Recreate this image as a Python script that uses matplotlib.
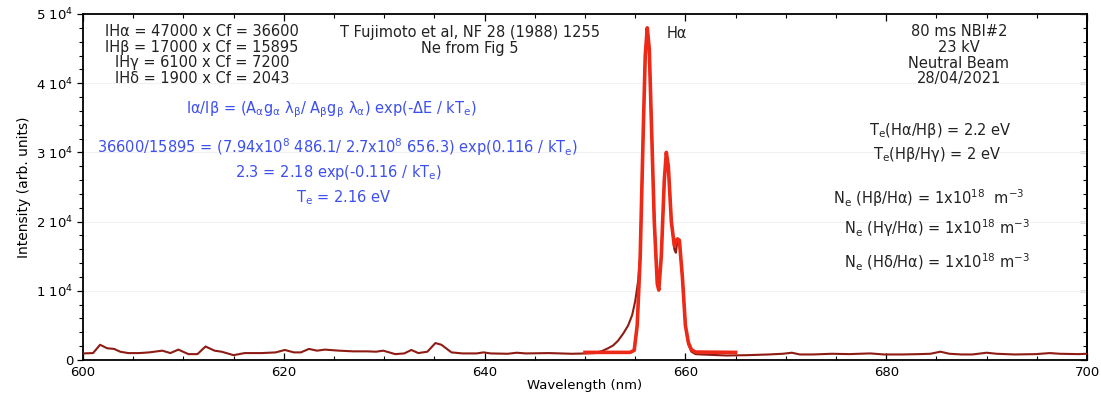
import matplotlib
matplotlib.use("Agg")
import matplotlib.pyplot as plt
from matplotlib.ticker import MultipleLocator, FuncFormatter

plt.rcParams["font.family"] = ["DejaVu Sans"]
plt.rcParams["mathtext.fontset"] = "dejavusans"
plt.rcParams["mathtext.default"] = "regular"

# measured spectrum (dark red)
wl_meas = [600, 601, 601.7, 602.4, 603.1, 603.7, 604.5, 605.6, 606.6, 607.9,
           608.7, 609.5, 610.5, 611.4, 612.2, 613.1, 613.8, 615.0, 616.1, 617.8,
           619.2, 620.1, 621.0, 621.7, 622.5, 623.3, 624.1, 625.5, 626.9, 628.3,
           629.2, 629.9, 631.1, 632.0, 632.7, 633.4, 634.3, 635.1, 635.7, 636.7,
           637.8, 639.2, 639.9, 640.6, 642.3, 643.2, 644.1, 646.4, 648.7, 650.1,
           651.0, 651.7, 652.3, 652.8, 653.3, 653.8, 654.3, 654.7, 655.0, 655.3,
           655.5, 655.8, 656.0, 656.2, 656.4, 656.6, 656.9, 657.2, 657.35, 657.6,
           657.9, 658.1, 658.3, 658.6, 658.9, 659.05, 659.2, 659.4, 659.7, 660.0,
           660.3, 660.6, 661.0, 661.6, 664.1, 666.2, 668.3, 669.7, 670.6, 671.4,
           672.7, 674.6, 676.3, 678.4, 679.8, 681.6, 683.3, 684.4, 685.4, 686.3,
           687.5, 688.6, 690.0, 691.0, 692.8, 694.9, 696.3, 697.3, 699.1, 700]
int_meas = [950, 1000, 2200, 1700, 1600, 1200, 1000, 1000, 1100, 1350,
            1000, 1500, 850, 850, 1950, 1350, 1200, 700, 1000, 1000,
            1100, 1450, 1100, 1100, 1600, 1350, 1500, 1350, 1250, 1250,
            1200, 1350, 850, 950, 1450, 1000, 1200, 2450, 2200, 1100,
            950, 950, 1100, 950, 900, 1050, 950, 1000, 900, 950,
            1000, 1300, 1700, 2100, 2800, 3800, 5000, 6500, 8500, 11500,
            15000, 33000, 44000, 47800, 45000, 35000, 20000, 11000, 10300, 15000,
            26000, 29500, 28000, 20000, 16000, 15500, 17200, 17000, 12000, 5000,
            2200, 1200, 850, 800, 650, 700, 800, 900, 1050, 800,
            800, 900, 850, 950, 800, 800, 850, 900, 1200, 900,
            800, 800, 1050, 900, 800, 850, 1000, 900, 850, 900]

# fitted profile (bright red)
wl_fit = [650, 654.5, 654.9, 655.2, 655.5, 655.8, 656.0, 656.2, 656.4, 656.6,
          656.9, 657.2, 657.35, 657.6, 657.9, 658.1, 658.3, 658.6, 658.9, 659.2,
          659.4, 659.7, 660.0, 660.3, 660.6, 661.0, 665]
int_fit = [1100, 1100, 1400, 5000, 15000, 33000, 44000, 48000, 45000, 35000,
           20000, 11000, 10100, 15000, 26000, 30000, 28000, 20000, 16500, 17500,
           17300, 12000, 5000, 2500, 1500, 1150, 1100]

line_ratio_text = ["IH\u03b1 = 47000 x Cf = 36600",
                   "IH\u03b2 = 17000 x Cf = 15895",
                   "IH\u03b3 = 6100 x Cf = 7200",
                   "IH\u03b4 = 1900 x Cf = 2043"]
ref_text = ["T Fujimoto et al, NF 28 (1988) 1255", "Ne from Fig 5"]
shot_text = ["80 ms NBI#2", "23 kV", "Neutral Beam", "28/04/2021"]
blue_text = ["I\u03b1/I\u03b2 = (A$_\u03b1$g$_\u03b1$ \u03bb$_\u03b2$/ A$_\u03b2$g$_\u03b2$ \u03bb$_\u03b1$) exp(-\u0394E / kT$_e$)",
             "36600/15895 = (7.94x10$^8$ 486.1/ 2.7x10$^8$ 656.3) exp(0.116 / kT$_e$)",
             "2.3 = 2.18 exp(-0.116 / kT$_e$)",
             "T$_e$ = 2.16 eV"]
result_text = ["T$_e$(H\u03b1/H\u03b2) = 2.2 eV",
               "T$_e$(H\u03b2/H\u03b3) = 2 eV",
               "N$_e$ (H\u03b2/H\u03b1) = 1x10$^{18}$  m$^{-3}$",
               "N$_e$ (H\u03b3/H\u03b1) = 1x10$^{18}$ m$^{-3}$",
               "N$_e$ (H\u03b4/H\u03b1) = 1x10$^{18}$ m$^{-3}$"]

W, H = 1101, 396
fig = plt.figure(figsize=(W / 100, H / 100), dpi=100)
L, R, T, B = 83, 1087, 14, 360
ax = fig.add_axes([L / W, 1 - B / H, (R - L) / W, (B - T) / H])


def at(x, y, s, **kw):
    # place text at reference pixel position
    ax.text((x - L) / (R - L), (B - y) / (B - T), s, transform=ax.transAxes,
            ha="center", va="center", **kw)


ax.plot(wl_meas, int_meas, color="#8e1c14", lw=1.5, zorder=3)
ax.plot(wl_fit, int_fit, color="#ec2a17", lw=2.6, zorder=4)

ax.set_xlim(600, 700)
ax.set_ylim(0, 50000)
ax.xaxis.set_major_locator(MultipleLocator(20))
ax.xaxis.set_minor_locator(MultipleLocator(5))
ax.yaxis.set_major_locator(MultipleLocator(10000))
ax.yaxis.set_minor_locator(MultipleLocator(2000))
ax.yaxis.set_major_formatter(FuncFormatter(
    lambda v, p: "0" if v == 0 else f"{int(round(v / 1e4))} 10$^4$"))
ax.tick_params(axis="x", which="both", direction="in", top=True, labelsize=9.5, pad=4)
ax.tick_params(axis="y", which="both", direction="out", right=False, labelsize=9.5, pad=3)
ax.tick_params(which="major", length=5, width=0.9)
ax.tick_params(which="minor", length=3, width=0.8)
ax.tick_params(axis="y", which="major", length=4)

sec = ax.secondary_yaxis("right")
sec.yaxis.set_major_locator(MultipleLocator(10000))
sec.yaxis.set_minor_locator(MultipleLocator(2000))
sec.tick_params(which="both", direction="in", labelright=False)
sec.tick_params(which="major", length=5, width=0.9)
sec.tick_params(which="minor", length=3, width=0.8)

for sp in ax.spines.values():
    sp.set_linewidth(1.3)
sec.spines["right"].set_linewidth(1.3)

ax.grid(axis="y", which="major", color="#f2f2f2", lw=0.8)
ax.set_axisbelow(True)

ax.set_xlabel("Wavelength (nm)", fontsize=9.5, labelpad=0)
ax.set_ylabel("Intensity (arb. units)", fontsize=10, labelpad=4)

fs = 10.5
dark = "#222222"
for i, s in enumerate(line_ratio_text):
    at(202, 32 + i * 15.5, s, fontsize=fs, color=dark)
for i, s in enumerate(ref_text):
    at(470, 32 + i * 16, s, fontsize=fs, color=dark)
at(677, 33, "H\u03b1", fontsize=fs, color=dark)
for i, s in enumerate(shot_text):
    at(959, 32 + i * 15.5, s, fontsize=fs, color=dark)

blue = "#3d4ff0"
for (x, y), s in zip([(331, 110), (338, 147), (338, 172), (344, 198)], blue_text):
    at(x, y, s, fontsize=fs, color=blue)

for (x, y), s in zip([(940, 130), (937, 155), (929, 198), (937, 228), (937, 262)],
                     result_text):
    at(x, y, s, fontsize=fs, color=dark)

fig.savefig("out.png", dpi=100)
